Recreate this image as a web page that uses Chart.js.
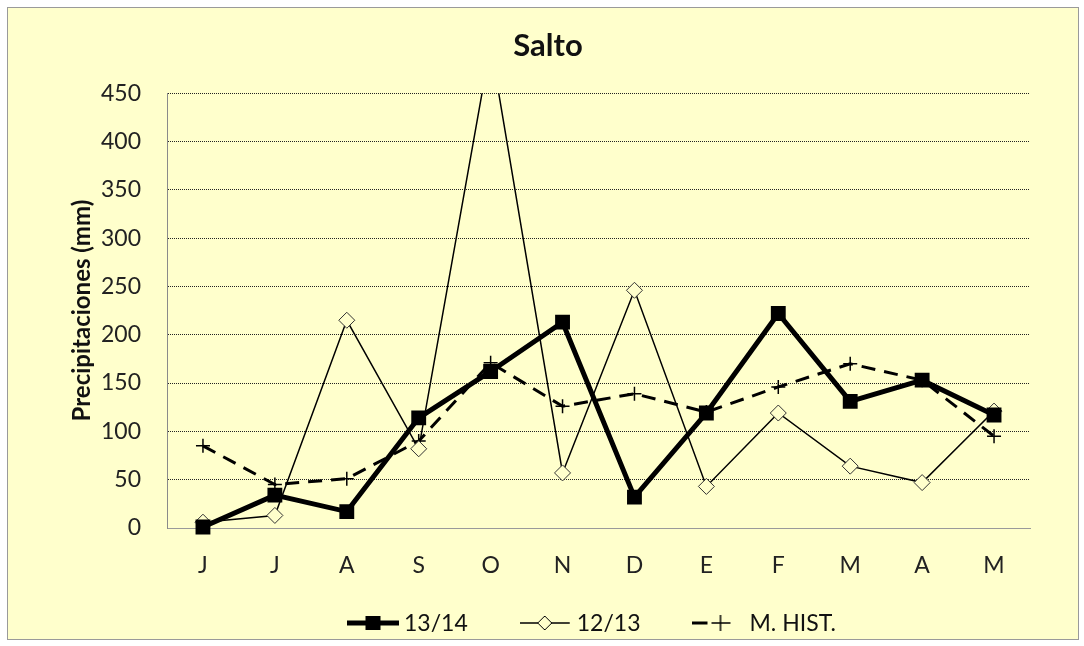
<!DOCTYPE html>
<html>
<head>
<meta charset="utf-8">
<script src="https://cdn.jsdelivr.net/npm/chart.js@4/dist/chart.umd.min.js"></script>
<style>
html,body{margin:0;padding:0;background:#fff;}
#wrap{width:1084px;height:646px;position:relative;}
</style>
</head>
<body>
<div id="wrap"><canvas id="c" width="1084" height="646"></canvas></div>
<script>
const months = ['J','J','A','S','O','N','D','E','F','M','A','M'];
const s1314 = [1,34,17,114,162,213,32,119,222,131,153,117];
const s1213 = [6,13,215,82,500,57,246,43,119,64,47,121];
const hist = [85,45,51,90,171,126,139,120,146,170,153,95];
const yTicks = [0,50,100,150,200,250,300,350,400,450];

const BG = '#FFFFCC';
const FONT = 'Lato, "Liberation Sans", sans-serif';

function legendIcon(kind){
  const c = document.createElement('canvas');
  c.width = 52; c.height = 22;
  const g = c.getContext('2d');
  g.strokeStyle = '#000'; g.fillStyle = '#000';
  const cy = 11;
  if (kind === 0){
    g.lineWidth = 5;
    g.beginPath(); g.moveTo(0,cy); g.lineTo(52,cy); g.stroke();
    g.fillRect(26-7.5, cy-7, 15, 14);
  } else if (kind === 1){
    g.lineWidth = 1.5;
    g.beginPath(); g.moveTo(0,cy); g.lineTo(50,cy); g.stroke();
    g.fillStyle = BG; g.lineWidth = 1;
    g.beginPath(); g.moveTo(25,cy-7); g.lineTo(32,cy); g.lineTo(25,cy+7); g.lineTo(18,cy); g.closePath();
    g.fill(); g.stroke();
  } else {
    g.lineWidth = 3;
    g.beginPath(); g.moveTo(0,cy); g.lineTo(15,cy); g.stroke();
    g.lineWidth = 1.5;
    g.beginPath(); g.moveTo(19,cy); g.lineTo(38,cy); g.stroke();
    g.beginPath(); g.moveTo(28,cy-8); g.lineTo(28,cy+8); g.stroke();
  }
  return c;
}
const icons = [legendIcon(0), legendIcon(1), legendIcon(2)];

const bgPlugin = {
  id: 'bg',
  beforeDraw(chart){
    const ctx = chart.ctx;
    ctx.save();
    ctx.fillStyle = '#fff';
    ctx.fillRect(0,0,chart.width,chart.height);
    ctx.fillStyle = BG;
    ctx.fillRect(7,7,1072,633);
    ctx.strokeStyle = '#9a9a9a';
    ctx.lineWidth = 1;
    ctx.strokeRect(7.5,7.5,1071,632);
    ctx.restore();
  }
};

const legendPlugin = {
  id: 'customLegend',
  afterDraw(chart){
    const ctx = chart.ctx;
    const ds = chart.data.datasets;
    ctx.save();
    ctx.font = '23px ' + FONT;
    ctx.fillStyle = '#111';
    ctx.textBaseline = 'middle';
    ctx.textAlign = 'left';
    const iconW = 52, gap = 5, spacing = 52;
    const widths = ds.map(d => iconW + gap + ctx.measureText(d.label).width);
    const total = widths.reduce((a,b)=>a+b,0) + spacing*(ds.length-1);
    const centerX = (chart.chartArea.left + chart.chartArea.right)/2 - 7;
    const cy = 624;
    let x = centerX - total/2;
    ds.forEach((d,i)=>{
      ctx.drawImage(icons[i], x, cy - 11 - 1);
      ctx.fillText(d.label, x + iconW + gap, cy);
      x += widths[i] + spacing;
    });
    ctx.restore();
  }
};

new Chart(document.getElementById('c'), {
  type: 'line',
  data: {
    labels: months,
    datasets: [
      {
        label: '13/14', data: s1314,
        borderColor: '#000', backgroundColor: '#000', borderWidth: 5,
        pointStyle: 'rect', pointRadius: 10.5, pointBackgroundColor: '#000', pointBorderColor: '#000', pointBorderWidth: 0,
        tension: 0, clip: {left: 12, right: 12, top: 0, bottom: 12}
      },
      {
        label: '12/13', data: s1213,
        borderColor: '#000', backgroundColor: BG, borderWidth: 1.5,
        pointStyle: 'rectRot', pointRadius: 8, pointBackgroundColor: BG, pointBorderColor: '#333', pointBorderWidth: 1,
        tension: 0, clip: {left: 12, right: 12, top: 0, bottom: 12}
      },
      {
        label: 'M. HIST.', data: hist,
        borderColor: '#000', backgroundColor: '#000', borderWidth: 3, borderDash: [14, 9],
        pointStyle: 'cross', pointRadius: 7, pointBorderColor: '#000', pointBorderWidth: 1.5,
        tension: 0, clip: {left: 12, right: 12, top: 0, bottom: 12}
      }
    ]
  },
  options: {
    responsive: false,
    animation: false,
    devicePixelRatio: 1,
    layout: { padding: { left: 66, right: 54, top: 0, bottom: 70 } },
    plugins: {
      tooltip: { enabled: false },
      legend: { display: false },
      title: {
        display: true, text: 'Salto', color: '#111',
        font: { family: FONT, size: 31, weight: 'bold' },
        padding: { top: 27, bottom: 29 }
      }
    },
    scales: {
      x: {
        offset: true,
        grid: { display: false, drawTicks: false },
        border: { display: true, color: '#9a9a9a', width: 1 },
        ticks: { color: '#222', font: { family: FONT, size: 23 }, padding: 24 },
        afterFit(s){ s.height = 48; }
      },
      y: {
        min: 0, max: 450,
        afterBuildTicks(s){ s.ticks = yTicks.map(v=>({value:v})); },
        grid: { color: '#222', lineWidth: 1, drawTicks: false },
        border: { display: true, color: '#8a8a8a', width: 1, dash: [1,1] },
        ticks: { color: '#222', font: { family: FONT, size: 23 }, padding: 26 },
        title: {
          display: true, text: 'Precipitaciones (mm)', color: '#111',
          font: { family: FONT, size: 24, weight: 'bold' },
          padding: { top: 2, bottom: 0 }
        },
        afterFit(s){ s.width = 101; }
      }
    }
  },
  plugins: [bgPlugin, legendPlugin]
});
</script>
</body>
</html>
